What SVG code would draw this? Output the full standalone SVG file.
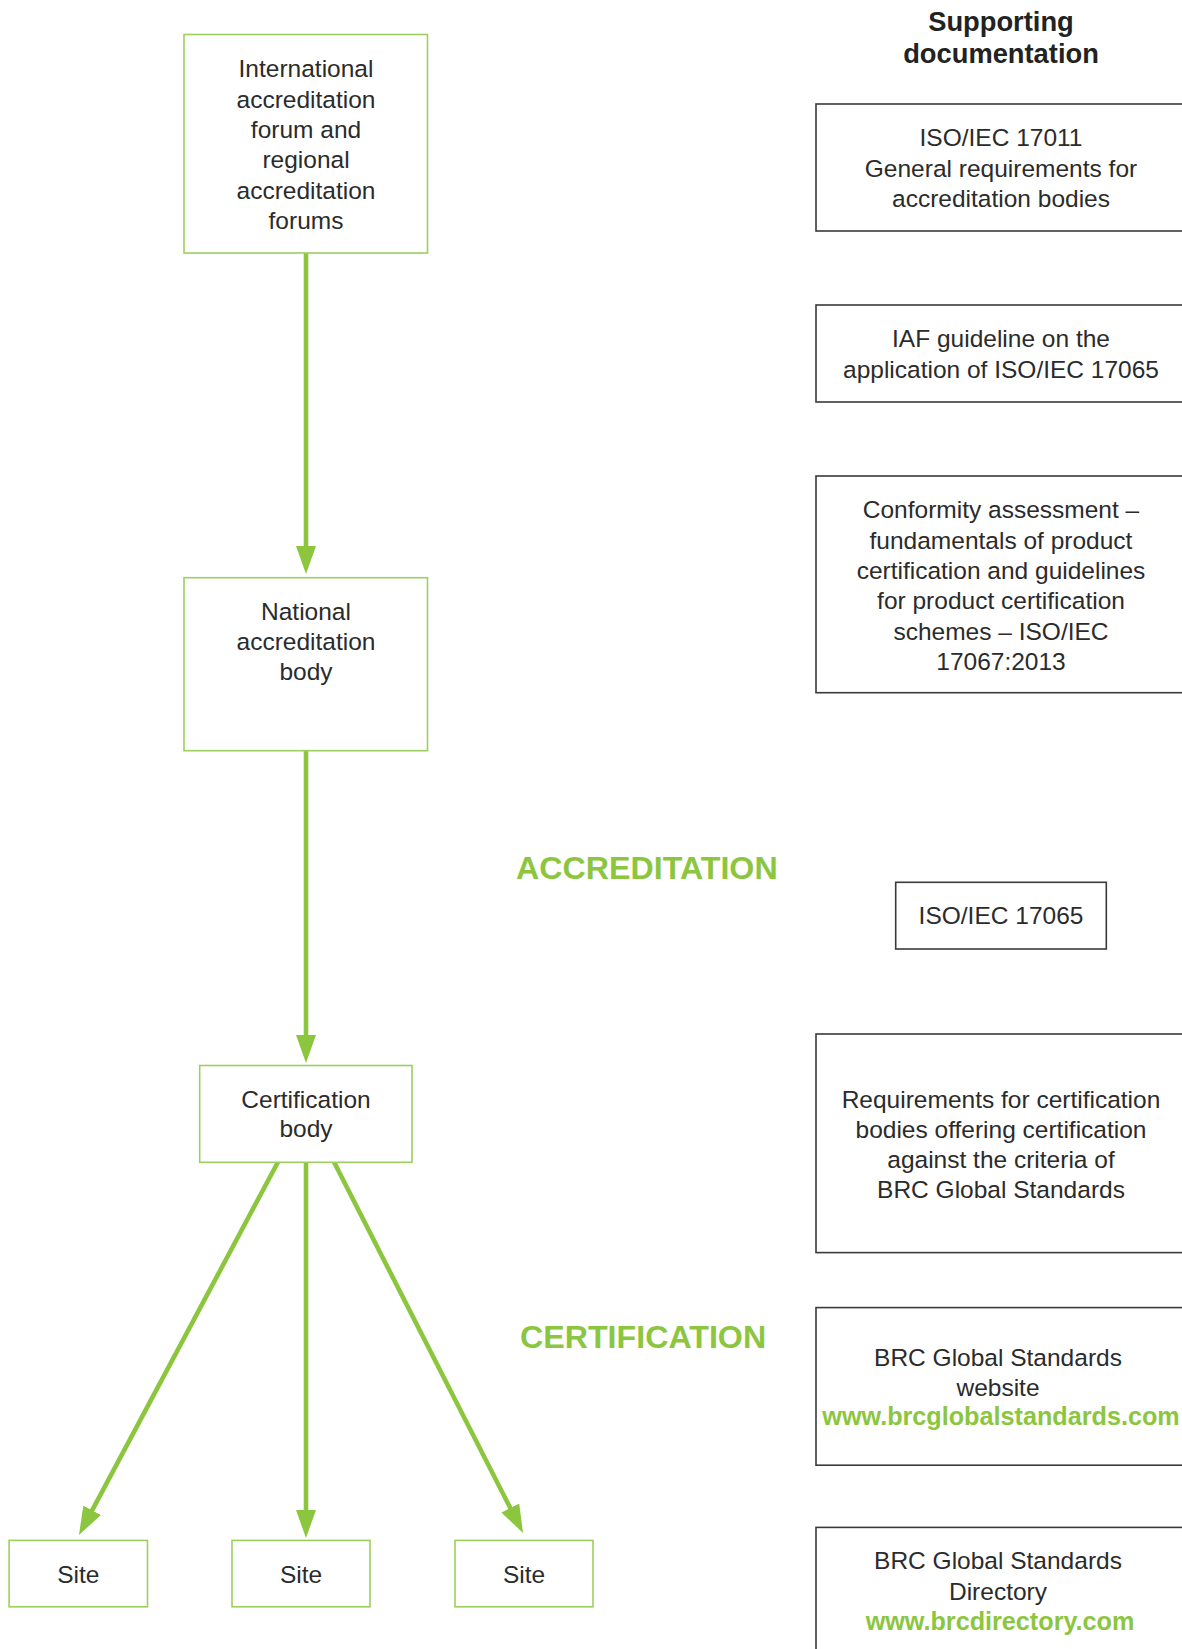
<svg xmlns="http://www.w3.org/2000/svg" width="1182" height="1649" viewBox="0 0 1182 1649">
  <style>
    .gbox { fill: #ffffff; stroke: #9dcf5e; stroke-width: 1.6; }
    .dbox { fill: #ffffff; stroke: #3a3a3a; stroke-width: 1.6; }
    .t { font-family: "Liberation Sans", Arial, sans-serif; font-size: 24.5px; fill: #2b2b2b; text-anchor: middle; }
    .h { font-family: "Liberation Sans", Arial, sans-serif; font-size: 27.3px; font-weight: bold; fill: #222222; text-anchor: middle; }
    .lab { font-family: "Liberation Sans", Arial, sans-serif; font-size: 32.2px; font-weight: bold; fill: #8cc63f; }
    .url { font-family: "Liberation Sans", Arial, sans-serif; font-size: 25.2px; font-weight: bold; fill: #8cc63f; text-anchor: middle; }
    .conn { fill: none; stroke: #8cc63f; stroke-width: 4.6; marker-end: url(#arrow); }
  </style>
  <defs>
    <marker id="arrow" markerUnits="userSpaceOnUse" viewBox="0 0 28 20" markerWidth="28" markerHeight="20" refX="2" refY="10" orient="auto">
      <path d="M0,0 L28,10 L0,20 Z" fill="#8cc63f"/>
    </marker>
  </defs>
  <rect width="1182" height="1649" fill="#ffffff"/>

  <g id="connectors">
    <line class="conn" x1="306" y1="253" x2="306" y2="548"/>
    <line class="conn" x1="306" y1="751" x2="306" y2="1037"/>
    <line class="conn" x1="278" y1="1162" x2="91.2" y2="1512.1"/>
    <line class="conn" x1="306" y1="1162" x2="306" y2="1512"/>
    <line class="conn" x1="334" y1="1162" x2="511.2" y2="1509.8"/>
  </g>

  <g id="node-iaf">
    <rect class="gbox" x="184" y="34.5" width="243.5" height="218.5"/>
    <text class="t" x="306" y="77.3">International</text>
    <text class="t" x="306" y="107.6">accreditation</text>
    <text class="t" x="306" y="137.9">forum and</text>
    <text class="t" x="306" y="168.2">regional</text>
    <text class="t" x="306" y="198.5">accreditation</text>
    <text class="t" x="306" y="228.8">forums</text>
  </g>

  <g id="node-nab">
    <rect class="gbox" x="184" y="577.7" width="243.5" height="173"/>
    <text class="t" x="306" y="620">National</text>
    <text class="t" x="306" y="650">accreditation</text>
    <text class="t" x="306" y="680">body</text>
  </g>

  <g id="node-cb">
    <rect class="gbox" x="199.7" y="1065.5" width="212.3" height="96.8"/>
    <text class="t" x="306" y="1107.8">Certification</text>
    <text class="t" x="306" y="1137.4">body</text>
  </g>

  <g id="node-site1">
    <rect class="gbox" x="9.1" y="1540.4" width="138.4" height="66.4"/>
    <text class="t" x="78.3" y="1582.7">Site</text>
  </g>
  <g id="node-site2">
    <rect class="gbox" x="232" y="1540.4" width="138" height="66.4"/>
    <text class="t" x="301" y="1582.7">Site</text>
  </g>
  <g id="node-site3">
    <rect class="gbox" x="455" y="1540.4" width="138" height="66.4"/>
    <text class="t" x="524" y="1582.7">Site</text>
  </g>

  <g id="label-accreditation">
    <text class="lab" x="516" y="879.3">ACCREDITATION</text>
  </g>
  <g id="label-certification">
    <text class="lab" x="520" y="1348.3">CERTIFICATION</text>
  </g>

  <g id="heading-supporting">
    <text class="h" x="1001" y="31">Supporting</text>
    <text class="h" x="1001" y="63">documentation</text>
  </g>

  <g id="doc-17011">
    <rect class="dbox" x="816" y="104" width="380" height="127"/>
    <text class="t" x="1001" y="146">ISO/IEC 17011</text>
    <text class="t" x="1001" y="177">General requirements for</text>
    <text class="t" x="1001" y="207">accreditation bodies</text>
  </g>

  <g id="doc-iaf">
    <rect class="dbox" x="816" y="305" width="380" height="97"/>
    <text class="t" x="1001" y="347">IAF guideline on the</text>
    <text class="t" x="1001" y="378">application of ISO/IEC 17065</text>
  </g>

  <g id="doc-17067">
    <rect class="dbox" x="816" y="476" width="380" height="216.7"/>
    <text class="t" x="1001" y="518.3">Conformity assessment –</text>
    <text class="t" x="1001" y="548.6">fundamentals of product</text>
    <text class="t" x="1001" y="578.9">certification and guidelines</text>
    <text class="t" x="1001" y="609.2">for product certification</text>
    <text class="t" x="1001" y="639.5">schemes – ISO/IEC</text>
    <text class="t" x="1001" y="669.8">17067:2013</text>
  </g>

  <g id="doc-17065">
    <rect class="dbox" x="895.7" y="882.3" width="210.6" height="66.7"/>
    <text class="t" x="1001" y="924.3">ISO/IEC 17065</text>
  </g>

  <g id="doc-requirements">
    <rect class="dbox" x="816" y="1034" width="380" height="218.6"/>
    <text class="t" x="1001" y="1107.5">Requirements for certification</text>
    <text class="t" x="1001" y="1137.6">bodies offering certification</text>
    <text class="t" x="1001" y="1167.7">against the criteria of</text>
    <text class="t" x="1001" y="1197.7">BRC Global Standards</text>
  </g>

  <g id="doc-website">
    <rect class="dbox" x="816" y="1307.6" width="380" height="157.6"/>
    <text class="t" x="998" y="1365.8">BRC Global Standards</text>
    <text class="t" x="998" y="1395.9">website</text>
    <text class="url" x="1001" y="1425.1">www.brcglobalstandards.com</text>
  </g>

  <g id="doc-directory">
    <rect class="dbox" x="816" y="1527.4" width="380" height="140"/>
    <text class="t" x="998" y="1568.7">BRC Global Standards</text>
    <text class="t" x="998" y="1599.6">Directory</text>
    <text class="url" x="1000" y="1629.7">www.brcdirectory.com</text>
  </g>
</svg>
